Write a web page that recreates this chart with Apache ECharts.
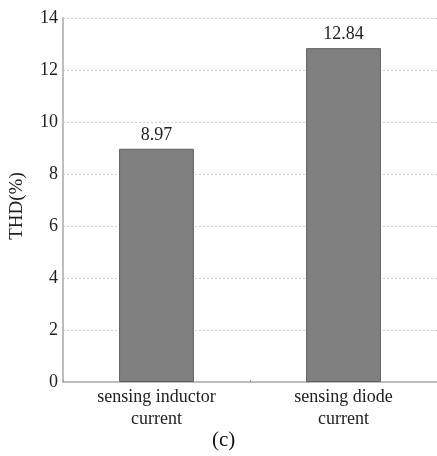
<!DOCTYPE html>
<html>
<head>
<meta charset="utf-8">
<script src="https://cdn.jsdelivr.net/npm/echarts@6/dist/echarts.min.js"></script>
<style>html,body{margin:0;padding:0;background:#fff}#c{width:437px;height:456px}</style>
</head>
<body>
<div id="c"></div>
<script>
const categories = ["sensing inductor\ncurrent", "sensing diode\ncurrent"];
const thdValues = [8.97, 12.84];
const yTicks = [0, 2, 4, 6, 8, 10, 12, 14];
const yName = "THD(%)";
const caption = "(c)";

const font = "Liberation Serif";
const chart = echarts.init(document.getElementById('c'), null, {renderer: 'canvas'});
chart.setOption({
  animation: false,
  backgroundColor: '#fff',
  textStyle: {fontFamily: font},
  grid: {left: 62, top: 18, right: -5, bottom: 74},
  xAxis: {
    type: 'category',
    data: categories,
    axisLine: {lineStyle: {color: '#bdbdbd', width: 2}},
    axisTick: {show: true, inside: true, length: 2, lineStyle: {color: '#999'}},
    axisLabel: {fontFamily: font, fontSize: 18, color: '#222', lineHeight: 22, margin: 4}
  },
  yAxis: {
    type: 'value',
    min: yTicks[0],
    max: yTicks[yTicks.length - 1],
    interval: 2,
    name: yName,
    nameLocation: 'middle',
    nameGap: 36,
    nameTextStyle: {fontFamily: font, fontSize: 19, color: '#222', padding: [0, 0, 0, -12]},
    axisLine: {show: true, lineStyle: {color: '#bdbdbd', width: 2}},
    axisTick: {show: false},
    axisLabel: {fontFamily: font, fontSize: 18, color: '#222', margin: 5},
    splitLine: {show: true, lineStyle: {color: '#cfcfcf', type: [2, 2], width: 1}}
  },
  series: [{
    type: 'bar',
    data: thdValues,
    barWidth: '40%',
    itemStyle: {color: '#808080', borderColor: '#5e5e5e', borderWidth: 1},
    label: {show: true, position: 'top', distance: 5, fontFamily: font, fontSize: 18, color: '#222',
      formatter: p => p.value.toFixed(2)}
  }],
  graphic: [{
    type: 'text', left: 212, top: 430,
    style: {text: caption, font: '21px "Liberation Serif"', fill: '#111'}
  }]
});
</script>
</body>
</html>
